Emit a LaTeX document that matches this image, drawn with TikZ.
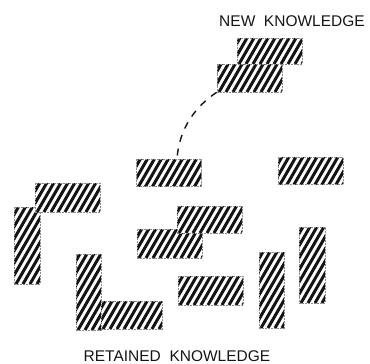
\documentclass[tikz,border=0pt]{standalone}
\usepackage{fontspec}
\setmainfont{Liberation Sans}
\usepackage{tikz}
\usepackage{xcolor}
\usetikzlibrary{calc}
\definecolor{inkblack}{RGB}{20,20,20}
\definecolor{edgegray}{RGB}{140,140,140}

\begin{document}
\begin{tikzpicture}[
    x=1pt, y=-1pt,
    block/.style={rectangle, inner sep=0pt, fill=white, draw=edgegray,
        line width=0.6pt, dash pattern=on 2pt off 1pt,
        path picture={
            \foreach \k in {-8,...,11}
                \draw[inkblack, solid, line width=3pt]
                    ($(path picture bounding box.south west)+(\k*7pt+2pt,0pt)$) -- ++(60:110pt);
        }},
    wide/.style={block, minimum width=65pt, minimum height=27pt},
    tall/.style={block, minimum width=25pt, minimum height=76pt},
    caption/.style={text=inkblack, font=\fontsize{15.5}{18}\selectfont}
]

% Frame
\useasboundingbox (0,0) rectangle (370,364);

% New knowledge (top right)
\node[caption] (newlbl) at (292,21) {NEW\ \ KNOWLEDGE};
\node[wide, minimum height=26pt] (new1) at (269.5,51) {};
\node[wide, minimum height=28pt] (new2) at (249.5,78) {};

% Retained knowledge blocks
\node[wide] (r1) at (169,173) {};
\node[wide] (r2) at (310.5,171) {};
\node[tall, minimum width=26pt, minimum height=77pt] (r3) at (27,245.5) {};
\node[wide, minimum height=29pt] (r4) at (67.5,197.5) {};
\node[wide, minimum height=29pt] (r5) at (169.5,243.5) {};
\node[wide] (r6) at (209.5,219.5) {};
\node[tall] (r7) at (88.5,292) {};
\node[wide, minimum width=61pt, minimum height=28pt] (r8) at (131.5,315) {};
\node[wide, minimum height=29pt] (r9) at (210.5,290.5) {};
\node[tall] (r10) at (271.5,290) {};
\node[tall, minimum width=26pt] (r11) at (312,265) {};

% Link from new to retained
\draw[inkblack, dash pattern=on 7pt off 7pt, line width=1.4pt] (new2.south west)
    .. controls (196,106) and (179,128) .. ([xshift=8pt]r1.north);

\node[caption] (oldlbl) at (177,356) {RETAINED\ \ KNOWLEDGE};

\end{tikzpicture}
\end{document}
